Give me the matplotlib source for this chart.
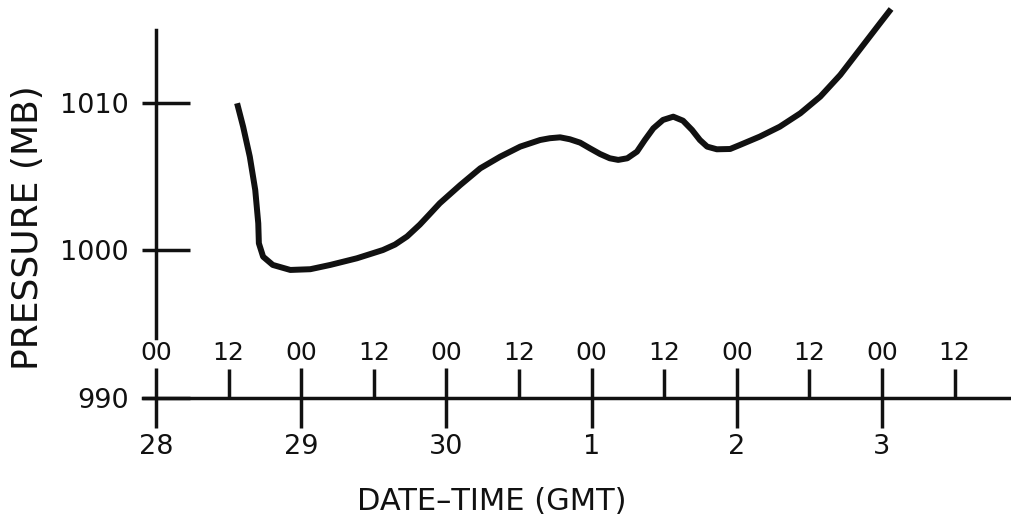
import matplotlib.pyplot as plt

# hours after 00 GMT on the 28th, and sea-level pressure (mb)
hours = [13.4, 14.4, 15.5, 16.4, 16.9, 17.0, 17.7, 19.3, 22.2, 25.5, 28.8, 33.2, 37.5,
         39.5, 41.5, 43.6, 45.2, 46.9, 50.3, 53.6, 56.9, 60.2, 63.5, 65.1, 66.8, 68.4,
         70.1, 71.7, 73.4, 75.0, 76.4, 77.9, 79.5, 80.8, 82.2, 83.8, 85.5, 87.1, 88.6,
         89.9, 91.1, 92.7, 94.9, 96.5, 99.8, 103.1, 106.5, 109.8, 113.1, 116.4, 119.7,
         121.5]
pressure = [1009.98, 1008.39, 1006.36, 1004.10, 1001.84, 1000.49, 999.58, 999.02, 998.68,
            998.73, 999.02, 999.47, 1000.03, 1000.40, 1000.95, 1001.75, 1002.45, 1003.20,
            1004.44, 1005.57, 1006.36, 1007.04, 1007.49, 1007.61, 1007.67, 1007.54,
            1007.31, 1006.93, 1006.54, 1006.25, 1006.14, 1006.25, 1006.70, 1007.49,
            1008.28, 1008.85, 1009.07, 1008.80, 1008.17, 1007.49, 1007.04, 1006.86,
            1006.88, 1007.15, 1007.72, 1008.39, 1009.30, 1010.43, 1011.90, 1013.66,
            1015.42, 1016.37]

day_ticks = [0, 24, 48, 72, 96, 120]
day_labels = ['28', '29', '30', '1', '2', '3']
half_ticks = [12, 36, 60, 84, 108, 132]
hour_ticks = [0, 12, 24, 36, 48, 60, 72, 84, 96, 108, 120, 132]
hour_labels = ['00', '12'] * 6
pres_ticks = [990, 1000, 1010]

ink = '#111111'
fig = plt.figure(figsize=(10.12, 5.25), dpi=100)
ax = fig.add_axes([0, 0, 1, 1])
ax.set_xlim(-25.79, 141.49)
ax.set_ylim(981.39, 1016.98)

ax.plot(hours, pressure, color=ink, lw=4.3, solid_joinstyle='round', solid_capstyle='butt')

for s in ['top', 'right']:
    ax.spines[s].set_visible(False)
ax.spines['left'].set_position(('data', 0))
ax.spines['left'].set_bounds(994.1, 1014.95)
ax.spines['bottom'].set_position(('data', 990))
ax.spines['bottom'].set_bounds(-2.15, 141.49)
for s in ['left', 'bottom']:
    ax.spines[s].set_linewidth(2.5)
    ax.spines[s].set_color(ink)

# x axis: day numbers below, hours above
ax.set_xticks(day_ticks, day_labels)
ax.set_xticks(half_ticks, minor=True)
ax.tick_params(axis='x', which='major', direction='inout', length=42.5, width=2.5,
               color=ink, labelsize=19.5, pad=4.7, labelcolor=ink)
ax.tick_params(axis='x', which='minor', direction='in', length=21, width=2.5, color=ink)
for h, lab in zip(hour_ticks, hour_labels):
    ax.text(h, 993.05, lab, ha='center', va='center', fontsize=18, color=ink)

# y axis
ax.yaxis.remove_overlapping_locs = False
ax.set_yticks(pres_ticks, [str(p) for p in pres_ticks])
ax.set_yticks(pres_ticks, minor=True)
ax.tick_params(axis='y', which='major', direction='in', length=24.5, width=2.5,
               color=ink, labelsize=19.5, pad=19.5, labelcolor=ink)
ax.tick_params(axis='y', which='minor', direction='out', length=10, width=2.5, color=ink)

fig.text(28 / 1012, 1 - 228 / 525, 'PRESSURE (MB)', rotation=90, ha='center', va='center',
         fontsize=26, color=ink)
fig.text(492 / 1012, 1 - 502 / 525, 'DATE\u2013TIME (GMT)', ha='center', va='center',
         fontsize=22, color=ink)

fig.savefig('out.png', dpi=100)
